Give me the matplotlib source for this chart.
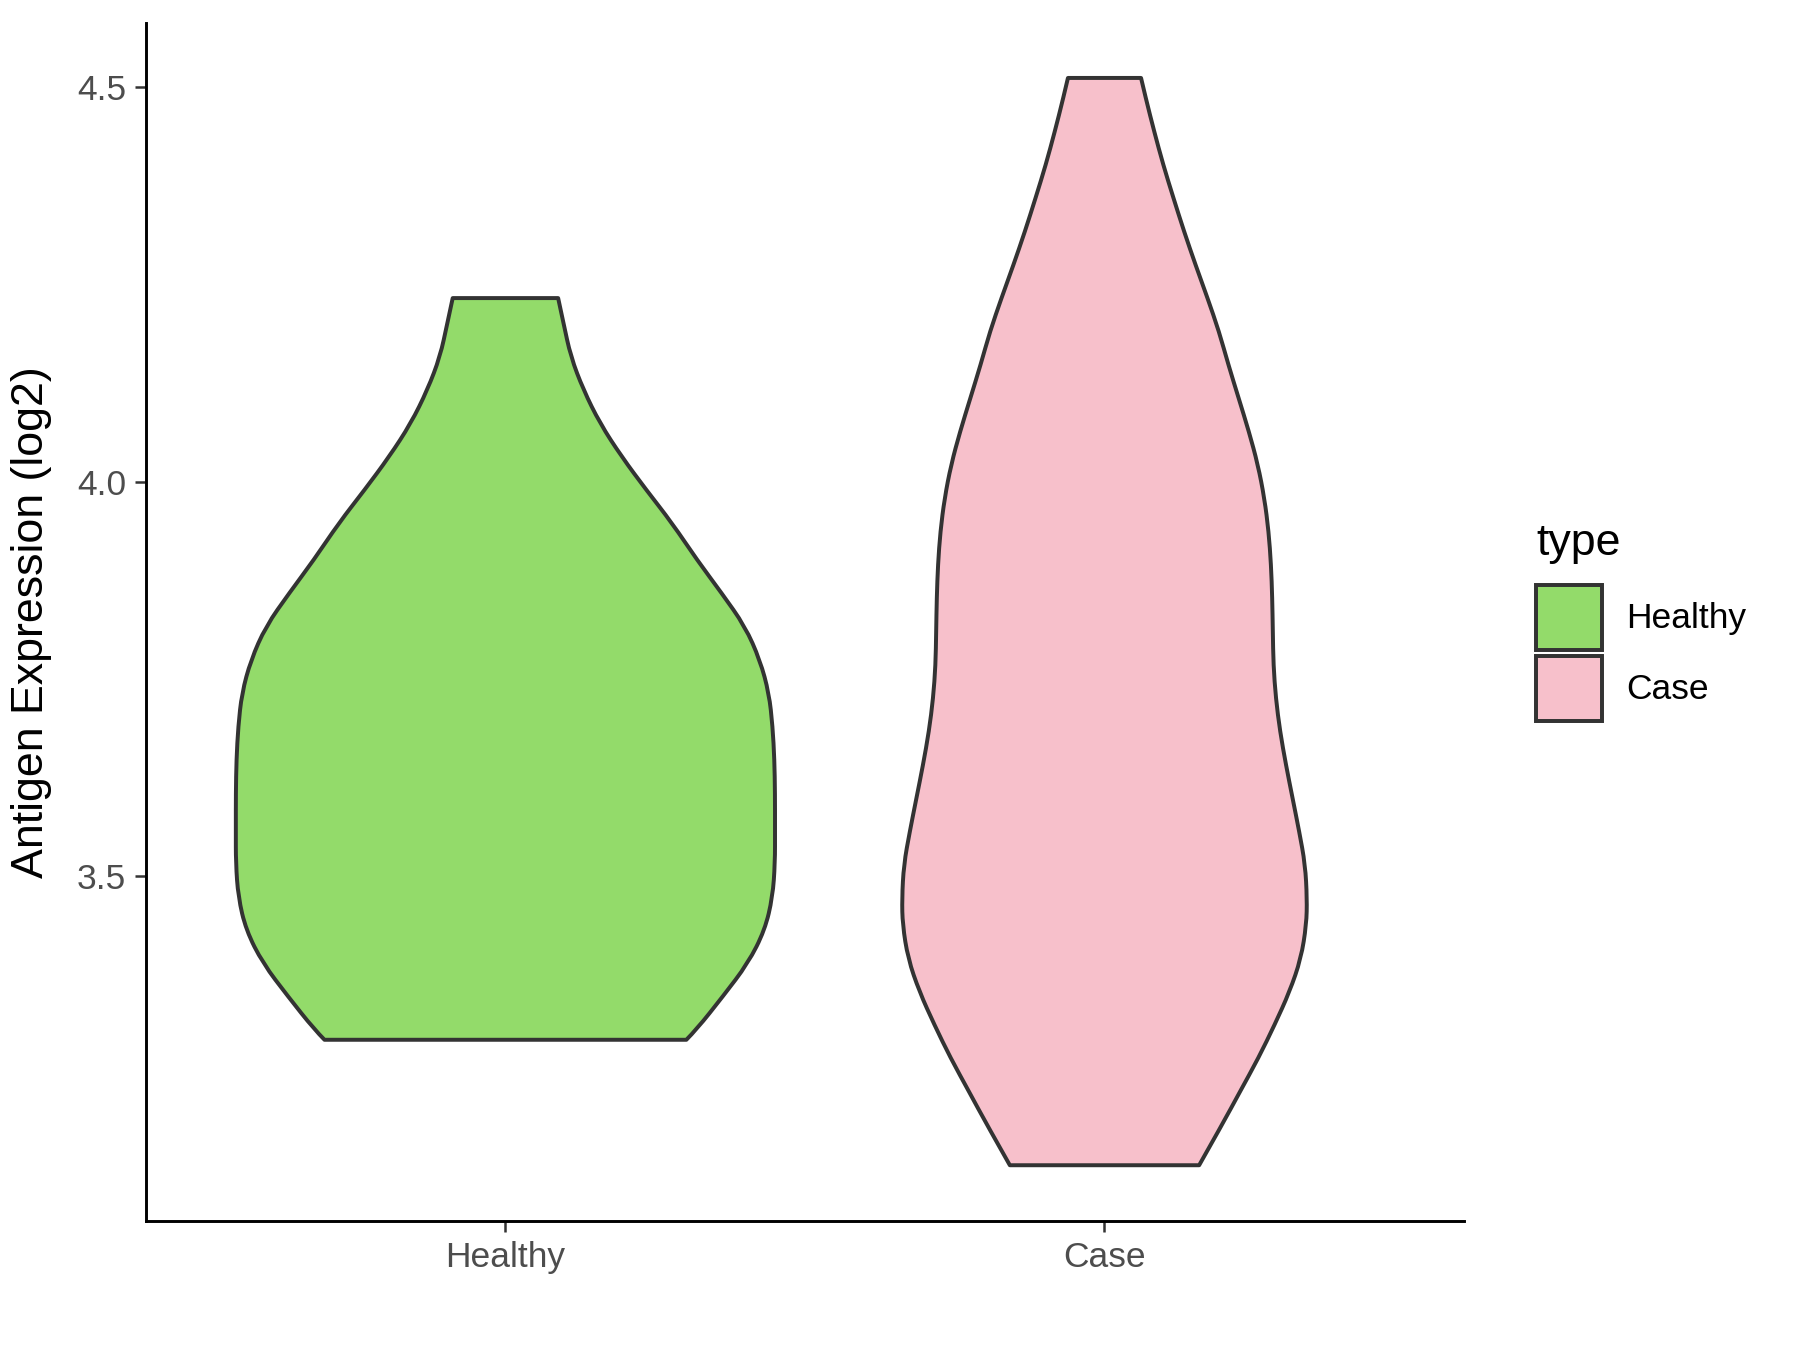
import matplotlib
matplotlib.use("Agg")
import matplotlib.pyplot as plt
from matplotlib.patches import Patch, PathPatch
from matplotlib.path import Path
import numpy as np

plt.rcParams["font.family"] = ["Liberation Sans", "DejaVu Sans"]

# group names and fills
groups = ["Healthy", "Case"]
fills = ["#93DB6A", "#F7C0CB"]

# violin outlines: expression values and half-widths
healthy_y = [3.293, 3.306, 3.348, 3.390, 3.432, 3.474, 3.517, 3.559, 3.605, 3.648,
             3.690, 3.732, 3.774, 3.817, 3.859, 3.901, 3.948, 3.990, 4.032, 4.074,
             4.117, 4.159, 4.201, 4.233]
healthy_w = [0.302, 0.319, 0.363, 0.405, 0.433, 0.446, 0.450, 0.450, 0.450, 0.449,
             0.446, 0.440, 0.425, 0.400, 0.361, 0.320, 0.278, 0.235, 0.194, 0.158,
             0.130, 0.109, 0.097, 0.088]

case_y = [3.134, 3.185, 3.227, 3.270, 3.312, 3.354, 3.396, 3.439, 3.472, 3.515,
          3.557, 3.599, 3.641, 3.684, 3.726, 3.768, 3.810, 3.853, 3.895, 3.937,
          3.979, 4.022, 4.064, 4.106, 4.148, 4.191, 4.233, 4.275, 4.317, 4.360,
          4.402, 4.444, 4.486, 4.512]
case_w = [0.158, 0.196, 0.226, 0.257, 0.284, 0.309, 0.328, 0.337, 0.338, 0.335,
          0.325, 0.314, 0.303, 0.293, 0.286, 0.282, 0.281, 0.280, 0.278, 0.274,
          0.267, 0.256, 0.241, 0.224, 0.207, 0.191, 0.172, 0.152, 0.133, 0.115,
          0.098, 0.083, 0.069, 0.061]

yticks = [3.5, 4.0, 4.5]
ytick_labels = ["3.5", "4.0", "4.5"]

EDGE = "#333333"


def smooth_side(pts):
    # quadratic bezier through midpoints, ends kept sharp
    verts = [pts[0]]
    codes = [Path.LINETO]
    n = len(pts)
    for i in range(1, n - 1):
        if i == n - 2:
            end = pts[n - 1]
        else:
            end = ((pts[i][0] + pts[i + 1][0]) / 2, (pts[i][1] + pts[i + 1][1]) / 2)
        verts += [pts[i], end]
        codes += [Path.CURVE3, Path.CURVE3]
    return verts, codes


def violin_path(pos, yy, ww):
    left = [(pos - w, y) for y, w in zip(yy, ww)]
    right = [(pos + w, y) for y, w in zip(yy[::-1], ww[::-1])]
    v1, c1 = smooth_side(left)
    v2, c2 = smooth_side(right)
    c1[0] = Path.MOVETO
    verts = v1 + v2 + [left[0]]
    codes = c1 + c2 + [Path.CLOSEPOLY]
    return Path(verts, codes)


fig = plt.figure(figsize=(12, 9), dpi=150)
ax = fig.add_axes([0.0811, 0.0956, 0.7322, 0.8874])

profiles = [(healthy_y, healthy_w), (case_y, case_w)]
for i, (yy, ww) in enumerate(profiles):
    patch = PathPatch(violin_path(i + 1, yy, ww), facecolor=fills[i],
                      edgecolor=EDGE, linewidth=1.9, joinstyle="round", zorder=2)
    ax.add_patch(patch)

ax.set_xlim(0.4, 2.6)
ax.set_ylim(3.0634, 4.5817)
ax.set_xticks([1, 2])
ax.set_xticklabels(groups)
ax.set_yticks(yticks)
ax.set_yticklabels(ytick_labels)

for side in ["top", "right"]:
    ax.spines[side].set_visible(False)
for side in ["left", "bottom"]:
    ax.spines[side].set_linewidth(1.4)
    ax.spines[side].set_color("black")

ax.tick_params(axis="both", length=5.5, width=1.2, color=EDGE,
               labelsize=17, labelcolor="#4D4D4D", pad=4)
ax.set_ylabel("Antigen Expression (log2)", fontsize=21.5, labelpad=12)

handles = [Patch(facecolor=fills[i], edgecolor=EDGE, linewidth=1.9, label=groups[i])
           for i in range(2)]
leg = fig.legend(handles=handles, title="type", loc="upper left",
                 bbox_to_anchor=(0.8533, 0.6126), frameon=False,
                 fontsize=17, title_fontsize=21.5, handlelength=1.86,
                 handleheight=2.47, labelspacing=0.15, handletextpad=0.7,
                 borderpad=0, borderaxespad=0, alignment="left")
leg._legend_box.sep = 10

fig.savefig("out.png", dpi=150, facecolor="white")
